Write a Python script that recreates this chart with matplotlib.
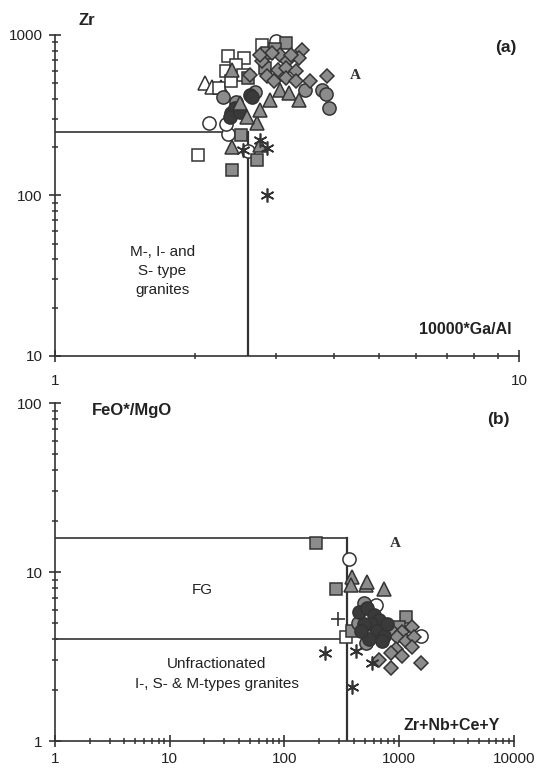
import matplotlib
matplotlib.use("Agg")
import matplotlib.pyplot as plt
from matplotlib.ticker import LogLocator, NullFormatter, FixedLocator, FixedFormatter

plt.rcParams["font.family"] = ["Liberation Sans", "DejaVu Sans"]

DARK = "#333333"
GREY = "#8c8c8c"
BLACKISH = "#3a3a3a"

# ---- panel (a): 10000*Ga/Al vs Zr ----
a_open_sq_x = [2.36, 2.79, 2.03, 2.56, 2.34, 2.46, 2.54, 2.26, 2.40]
a_open_sq_y = [740, 865, 178, 720, 600, 650, 560, 465, 520]
a_grey_sq_x = [3.15, 2.86, 2.83, 2.52, 2.41, 2.73, 2.98, 2.60]
a_grey_sq_y = [890, 770, 620, 237, 145, 166, 820, 540]
a_open_ci_x = [2.99, 2.15, 2.36, 2.60, 2.34]
a_open_ci_y = [915, 282, 240, 188, 278]
a_grey_ci_x = [3.77, 3.84, 3.90, 3.45, 2.30, 2.45, 2.70]
a_grey_ci_y = [453, 428, 350, 453, 410, 380, 440]
a_dark_ci_x = [2.40, 2.44, 2.63, 2.66, 2.38, 2.50]
a_dark_ci_y = [325, 350, 422, 410, 307, 330]
a_grey_tr_x = [2.41, 3.05, 3.20, 3.36, 2.72, 2.59, 2.41, 2.90, 2.76, 2.50, 2.76]
a_grey_tr_y = [604, 453, 434, 392, 282, 307, 200, 392, 205, 376, 340]
a_open_tr_x = [2.10, 2.18, 2.28]
a_open_tr_y = [500, 473, 473]
a_diam_x = [3.41, 3.36, 3.05, 3.17, 3.02, 3.15, 3.31, 3.15, 3.31, 3.54, 3.85,
            2.93, 2.79, 2.86, 2.76, 3.23, 2.97, 2.63]
a_diam_y = [805, 718, 750, 688, 604, 622, 596, 538, 516, 516, 554,
            772, 688, 554, 750, 750, 516, 562]
a_ast_x = [2.76, 2.86, 2.86, 2.54]
a_ast_y = [221, 197, 100, 191]

# ---- panel (b): Zr+Nb+Ce+Y vs FeO*/MgO ----
b_open_sq_x = [346]
b_open_sq_y = [4.1]
b_grey_sq_x = [190, 283, 390, 1150, 1000]
b_grey_sq_y = [14.9, 7.9, 4.5, 5.4, 4.7]
b_open_ci_x = [367, 631, 1553]
b_open_ci_y = [11.9, 6.4, 4.2]
b_grey_ci_x = [496, 517, 440]
b_grey_ci_y = [6.6, 3.8, 5.0]
b_dark_ci_x = [449, 527, 606, 670, 571, 644, 741, 496, 549, 711, 787, 468]
b_dark_ci_y = [5.8, 6.1, 5.6, 5.2, 4.9, 4.5, 4.2, 4.9, 4.0, 3.9, 4.9, 4.5]
b_grey_tr_x = [390, 383, 517, 741, 527, 468]
b_grey_tr_y = [9.3, 8.4, 8.4, 7.9, 8.7, 5.1]
b_diam_x = [869, 1062, 1297, 961, 1150, 1349, 942, 1297, 851, 1062, 1553, 670, 851]
b_diam_y = [4.5, 4.4, 4.7, 4.1, 3.9, 4.1, 3.5, 3.6, 3.3, 3.2, 2.9, 3.0, 2.7]
b_ast_x = [227, 390, 423, 583]
b_ast_y = [3.3, 2.1, 3.4, 2.9]
b_plus_x = [295]
b_plus_y = [5.3]

# boundary values
a_ga_limit = 2.6
a_zr_limit = 250
b_sum_limit = 350
b_fg_top = 16
b_fg_low = 4

fig = plt.figure(figsize=(5.37, 7.69), dpi=100)
ax1 = fig.add_axes([0.1024, 0.5371, 0.8641, 0.4174])
ax2 = fig.add_axes([0.1024, 0.0364, 0.8547, 0.4395])


def draw(ax, x, y, marker, face, size, edge=DARK, mew=1.1):
    ax.plot(x, y, linestyle="none", marker=marker, markersize=size,
            markerfacecolor=face, markeredgecolor=edge, markeredgewidth=mew,
            clip_on=False, zorder=3)


def style_axes(ax, xlim, ylim, xticks, yticks, xpad):
    ax.set_xscale("log")
    ax.set_yscale("log")
    ax.set_xlim(*xlim)
    ax.set_ylim(*ylim)
    for s in ["top", "right"]:
        ax.spines[s].set_visible(False)
    for s in ["left", "bottom"]:
        ax.spines[s].set_color(DARK)
        ax.spines[s].set_linewidth(1.2)
    ax.xaxis.set_major_locator(FixedLocator(xticks))
    ax.xaxis.set_major_formatter(FixedFormatter([f"{t:g}" for t in xticks]))
    ax.yaxis.set_major_locator(FixedLocator(yticks))
    ax.yaxis.set_major_formatter(FixedFormatter([f"{t:g}" for t in yticks]))
    ax.xaxis.set_minor_locator(LogLocator(base=10, subs=range(2, 10)))
    ax.yaxis.set_minor_locator(LogLocator(base=10, subs=range(2, 10)))
    ax.xaxis.set_minor_formatter(NullFormatter())
    ax.yaxis.set_minor_formatter(NullFormatter())
    ax.tick_params(which="major", direction="inout", length=8, width=1.2,
                   color=DARK, labelsize=11, labelcolor="#222222")
    ax.tick_params(which="minor", direction="inout", length=5, width=1.1,
                   color=DARK)
    ax.tick_params(axis="x", which="major", pad=xpad)
    ax.tick_params(axis="y", which="major", pad=5)


# panel (a)
style_axes(ax1, (1, 10), (10, 1000), [1, 10], [10, 100, 1000], 9)
ax1.plot([1, a_ga_limit], [a_zr_limit, a_zr_limit], color=DARK, lw=1.2, zorder=2)
ax1.plot([a_ga_limit, a_ga_limit], [10, a_zr_limit], color=DARK, lw=1.6, zorder=2)

draw(ax1, a_open_tr_x, a_open_tr_y, "^", "white", 10)
draw(ax1, a_open_sq_x, a_open_sq_y, "s", "white", 9)
draw(ax1, a_open_ci_x, a_open_ci_y, "o", "white", 9.5)
draw(ax1, a_grey_ci_x, a_grey_ci_y, "o", GREY, 9.5)
draw(ax1, a_dark_ci_x, a_dark_ci_y, "o", BLACKISH, 9.5)
draw(ax1, a_grey_tr_x, a_grey_tr_y, "^", GREY, 10)
draw(ax1, a_grey_sq_x, a_grey_sq_y, "s", GREY, 9)
draw(ax1, a_diam_x, a_diam_y, "D", GREY, 7)
draw(ax1, a_ast_x, a_ast_y, (6, 2, 0), "none", 10, mew=1.2)

ax1.text(0.069, 1.044, "Zr", transform=ax1.transAxes, fontsize=12,
         fontweight="bold", color="#222222", ha="center", va="center")
ax1.text(0.972, 0.9625, "(a)", transform=ax1.transAxes, fontsize=12.5,
         fontweight="bold", color="#222222", ha="center", va="center")
ax1.text(4.45, 560, "A", fontsize=11, fontweight="bold", color=DARK,
         family="Liberation Serif", ha="center", va="center")
ax1.text(0.231, 0.265, "M-, I- and\nS- type\ngranites", transform=ax1.transAxes,
         fontsize=11, color="#222222", ha="center", va="center", linespacing=1.45)
ax1.text(0.884, 0.084, "10000*Ga/Al", transform=ax1.transAxes, fontsize=11.5,
         fontweight="bold", color="#222222", ha="center", va="center")

# panel (b)
style_axes(ax2, (1, 10000), (1, 100), [1, 10, 100, 1000, 10000], [1, 10, 100], 4)
ax2.plot([1, b_sum_limit], [b_fg_top, b_fg_top], color=DARK, lw=1.2, zorder=2)
ax2.plot([1, b_sum_limit], [b_fg_low, b_fg_low], color=DARK, lw=1.2, zorder=2)
ax2.plot([b_sum_limit, b_sum_limit], [1, b_fg_top], color=DARK, lw=1.6, zorder=2)

draw(ax2, b_open_sq_x, b_open_sq_y, "s", "white", 9)
draw(ax2, b_grey_sq_x, b_grey_sq_y, "s", GREY, 9)
draw(ax2, b_open_ci_x, b_open_ci_y, "o", "white", 9.5)
draw(ax2, b_grey_tr_x, b_grey_tr_y, "^", GREY, 10)
draw(ax2, b_diam_x, b_diam_y, "D", GREY, 7)
draw(ax2, b_grey_ci_x, b_grey_ci_y, "o", GREY, 9.5)
draw(ax2, b_dark_ci_x, b_dark_ci_y, "o", BLACKISH, 9.5)
draw(ax2, b_ast_x, b_ast_y, (6, 2, 0), "none", 10, mew=1.2)
draw(ax2, b_plus_x, b_plus_y, "+", "none", 10, mew=1.2)

ax2.text(0.167, 0.979, "FeO*/MgO", transform=ax2.transAxes, fontsize=12,
         fontweight="bold", color="#222222", ha="center", va="center")
ax2.text(0.967, 0.950, "(b)", transform=ax2.transAxes, fontsize=12.5,
         fontweight="bold", color="#222222", ha="center", va="center")
ax2.text(930, 14.7, "A", fontsize=11, fontweight="bold", color=DARK,
         family="Liberation Serif", ha="center", va="center")
ax2.text(0.320, 0.447, "FG", transform=ax2.transAxes, fontsize=11,
         color="#222222", ha="center", va="center")
ax2.text(0.352, 0.198, "Unfractionated\nI-, S- & M-types granites",
         transform=ax2.transAxes, fontsize=11, color="#222222",
         ha="center", va="center", linespacing=1.6)
ax2.text(0.864, 0.047, "Zr+Nb+Ce+Y", transform=ax2.transAxes, fontsize=11.5,
         fontweight="bold", color="#222222", ha="center", va="center")

plt.savefig("out.png", dpi=100)
